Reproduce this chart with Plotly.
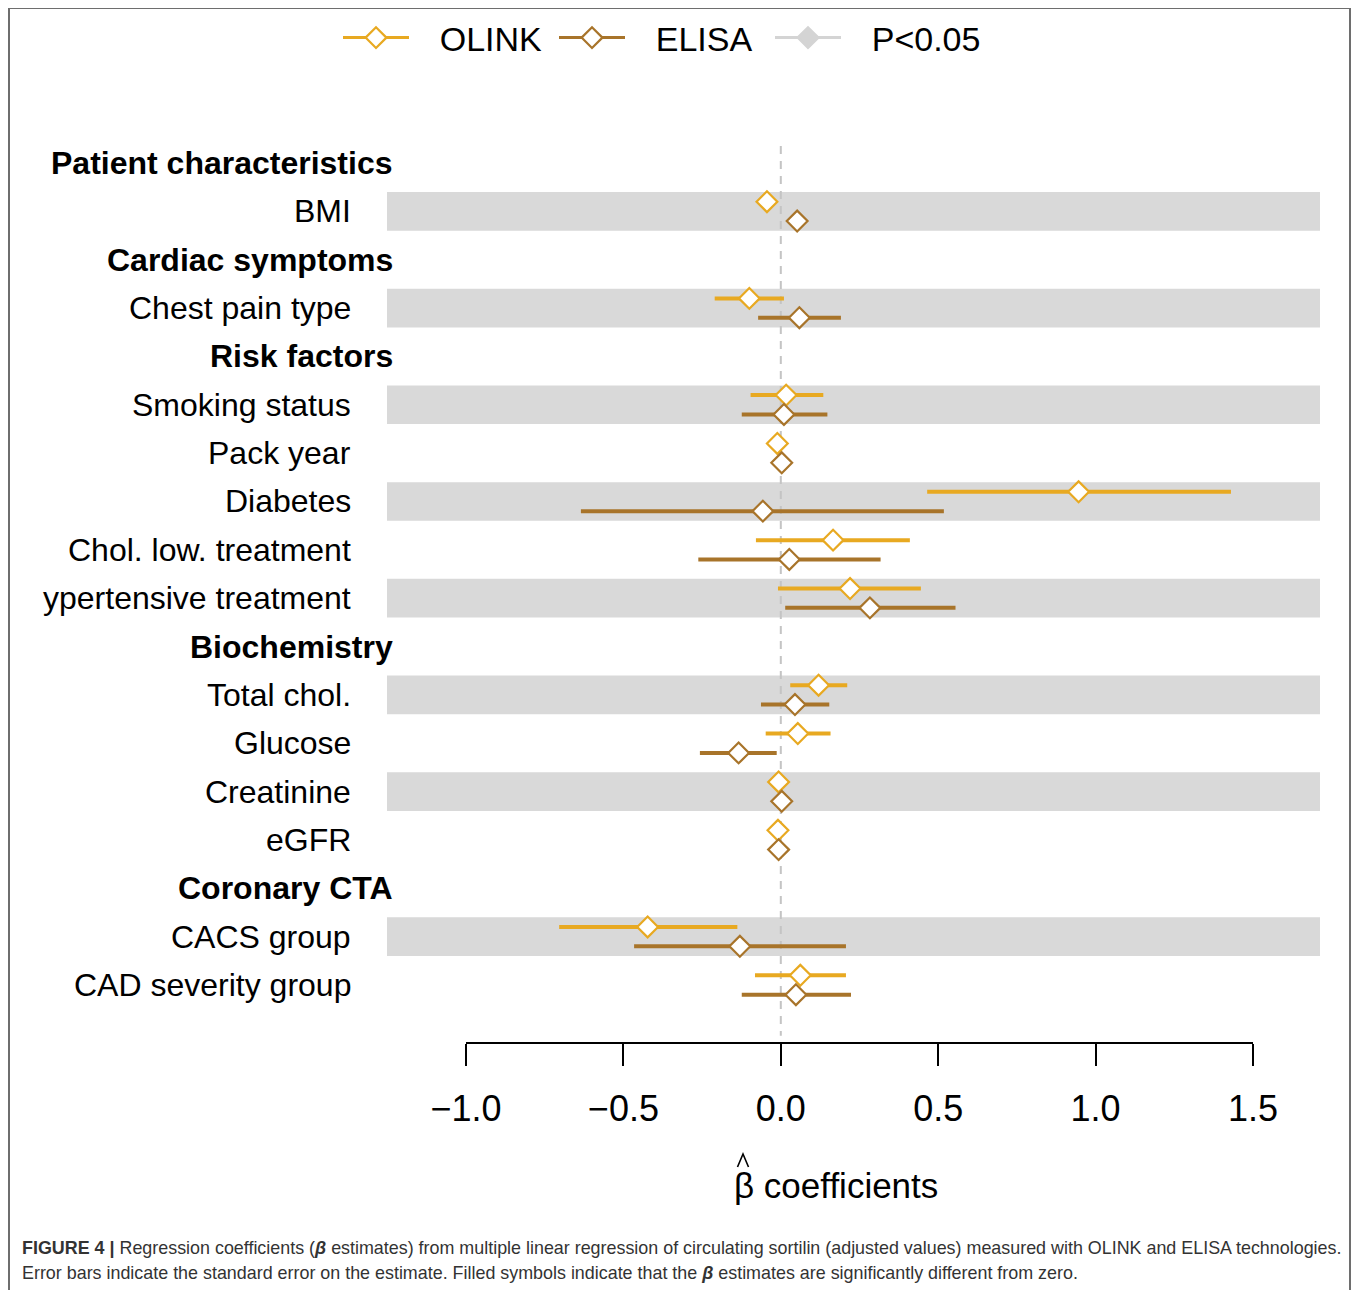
import plotly.graph_objects as go

# ---------------- data ----------------
groups = ["Patient characteristics", "Cardiac symptoms", "Risk factors",
          "Biochemistry", "Coronary CTA"]
items = ["BMI", "Chest pain type", "Smoking status", "Pack year", "Diabetes",
         "Chol. low. treatment", "ypertensive treatment", "Total chol.",
         "Glucose", "Creatinine", "eGFR", "CACS group", "CAD severity group"]
item_group = [0, 1, 2, 2, 2, 2, 2, 3, 3, 3, 3, 4, 4]
item_band = [1, 1, 1, 0, 1, 0, 1, 1, 0, 1, 0, 1, 0]

olink_beta = [-0.044, -0.100, 0.017, -0.011, 0.946, 0.166, 0.220, 0.120, 0.054, -0.007, -0.009, -0.423, 0.062]
olink_lo = [-0.064, -0.210, -0.096, -0.025, 0.465, -0.079, -0.009, 0.030, -0.048, -0.021, -0.023, -0.704, -0.082]
olink_hi = [-0.024, 0.010, 0.135, 0.003, 1.430, 0.410, 0.445, 0.211, 0.158, 0.007, 0.005, -0.138, 0.207]
elisa_beta = [0.052, 0.059, 0.010, 0.003, -0.057, 0.027, 0.283, 0.045, -0.134, 0.003, -0.007, -0.130, 0.048]
elisa_lo = [0.038, -0.072, -0.124, -0.011, -0.635, -0.262, 0.014, -0.063, -0.257, -0.011, -0.021, -0.466, -0.124]
elisa_hi = [0.066, 0.191, 0.148, 0.017, 0.518, 0.317, 0.555, 0.154, -0.013, 0.017, 0.007, 0.207, 0.223]

x_ticks = [-1.0, -0.5, 0.0, 0.5, 1.0, 1.5]
legend_names = ["OLINK", "ELISA", "P<0.05"]
x_title = "β coefficients"

# ---------------- style ----------------
C_OL = "#E8A921"
C_EL = "#A8742A"
C_SIG = "#D4D4D4"
C_BAND = "#D9D9D9"
FONT = "Liberation Sans, Arial, Helvetica, sans-serif"
OFF = 8  # page body margin
W, H = 1360 - OFF, 1290 - OFF


def fx(px):
    return (px - OFF) / W


def fy(py):
    return 1 - (py - OFF) / H


# row layout (header row followed by its items)
header_rows = []
item_rows = []
r = 0
for g in range(len(groups)):
    header_rows.append(r)
    r += 1
    for i, ig in enumerate(item_group):
        if ig == g:
            item_rows.append(r)
            r += 1
n_rows = r
off = 0.2

fig = go.Figure()

# data traces
for beta, lo, hi, col, sign in [(olink_beta, olink_lo, olink_hi, C_OL, -1),
                                (elisa_beta, elisa_lo, elisa_hi, C_EL, 1)]:
    fig.add_trace(go.Scatter(
        x=beta,
        y=[yr + sign * off for yr in item_rows],
        mode="markers",
        marker=dict(symbol="diamond", size=16, color="white",
                    line=dict(color=col, width=2.2)),
        error_x=dict(type="data", symmetric=False,
                     array=[h - b for h, b in zip(hi, beta)],
                     arrayminus=[b - l for b, l in zip(beta, lo)],
                     color=col, thickness=4, width=0),
        showlegend=False, hoverinfo="skip"))

# legend-only traces
NB = "\u00a0\u00a0\u2009"
for name, col, fill in zip(legend_names, [C_OL, C_EL, C_SIG], ["white", "white", C_SIG]):
    fig.add_trace(go.Scatter(
        x=[None], y=[None], name=NB + name, mode="lines+markers",
        line=dict(color=col, width=3),
        marker=dict(symbol="diamond", size=16, color=fill,
                    line=dict(color=col, width=2.2))))

shapes = []
# zero reference line (below bands)
shapes.append(dict(type="line", xref="x", yref="y", x0=0, x1=0,
                   y0=-0.35, y1=n_rows + 0.05,
                   line=dict(color="#C4C4C4", width=2, dash="8px,7px"),
                   layer="below"))
# grey bands
for yr, b in zip(item_rows, item_band):
    if b:
        shapes.append(dict(type="rect", xref="x domain", yref="y",
                           x0=0, x1=1, y0=yr - 0.4, y1=yr + 0.4,
                           fillcolor=C_BAND, line=dict(width=0), layer="below"))
# x-axis line between -1.0 and 1.5
shapes.append(dict(type="line", xref="x", yref="y domain",
                   x0=x_ticks[0], x1=x_ticks[-1], y0=0, y1=0,
                   line=dict(color="black", width=2)))
# outer frame
shapes.append(dict(type="rect", xref="paper", yref="paper",
                   x0=fx(9), x1=fx(1350), y0=-0.05, y1=fy(8),
                   line=dict(color="#6E6E6E", width=2), fillcolor="rgba(0,0,0,0)"))
# hat accent over beta in the axis title
hat_path = "M {:.5f},{:.5f} L {:.5f},{:.5f} L {:.5f},{:.5f}".format(
    fx(737.5), fy(1167), fx(743), fy(1154), fx(748.5), fy(1167))
shapes.append(dict(type="path", xref="paper", yref="paper", path=hat_path,
                   line=dict(color="black", width=1.6)))

annotations = []
for g, yr in zip(groups, header_rows):
    annotations.append(dict(text="<b>" + g + "</b>", x=fx(395), xref="paper",
                            y=yr, yref="y", xanchor="right", yanchor="middle",
                            showarrow=False, font=dict(size=32, color="black", family=FONT)))
for it, yr in zip(items, item_rows):
    annotations.append(dict(text=it, x=fx(353), xref="paper",
                            y=yr, yref="y", xanchor="right", yanchor="middle",
                            showarrow=False, font=dict(size=32, color="black", family=FONT)))

# x-axis title
annotations.append(dict(text=x_title, x=fx(836), xref="paper", y=fy(1185), yref="paper",
                        xanchor="center", yanchor="middle", showarrow=False,
                        font=dict(size=35, color="black", family=FONT)))

cap1 = ("<b>FIGURE 4 |</b> Regression coefficients (<b><i>β</i></b> estimates) from multiple linear "
        "regression of circulating sortilin (adjusted values) measured with OLINK and ELISA technologies.")
cap2 = ("Error bars indicate the standard error on the estimate. Filled symbols indicate that the "
        "<b><i>β</i></b> estimates are significantly different from zero.")
for txt, ypx in [(cap1, 1248), (cap2, 1273)]:
    annotations.append(dict(text=txt, x=fx(20), xref="paper", y=fy(ypx), yref="paper",
                            xanchor="left", yanchor="middle", showarrow=False, align="left",
                            font=dict(size=17.9, color="#333333", family=FONT)))

# row geometry: row 0 at 163px, row 17 at 985px
px_per_row = (985 - 163) / (n_rows - 1)
y_top_px, y_bot_px = 120, 1043
y_range = [(n_rows - 1) + (y_bot_px - 985) / px_per_row, -(163 - y_top_px) / px_per_row]

x_left_px, x_right_px = 387, 1320
x0_px, px_per_unit = 780.8, 314.8
x_range = [(x_left_px - x0_px) / px_per_unit, (x_right_px - x0_px) / px_per_unit]

fig.update_layout(
    width=W, height=H,
    margin=dict(l=0, r=0, t=0, b=0),
    paper_bgcolor="white", plot_bgcolor="white",
    font=dict(family=FONT, color="black"),
    shapes=shapes, annotations=annotations,
    legend=dict(orientation="h", x=fx(338), xanchor="left", y=fy(38), yanchor="middle",
                font=dict(size=34, family=FONT, color="black"), itemwidth=66,
                entrywidth=135, entrywidthmode="pixels",
                bgcolor="rgba(0,0,0,0)"),
    xaxis=dict(domain=[fx(x_left_px), fx(x_right_px)], range=x_range,
               showgrid=False, zeroline=False, showline=False,
               tickvals=x_ticks, tickformat=".1f", ticks="outside", ticklen=22,
               tickwidth=2, tickcolor="black", ticklabelstandoff=12,
               tickfont=dict(size=36, family=FONT, color="black")),
    yaxis=dict(domain=[fy(y_bot_px), fy(y_top_px)], range=y_range,
               visible=False),
)

fig.write_html("out.html")
